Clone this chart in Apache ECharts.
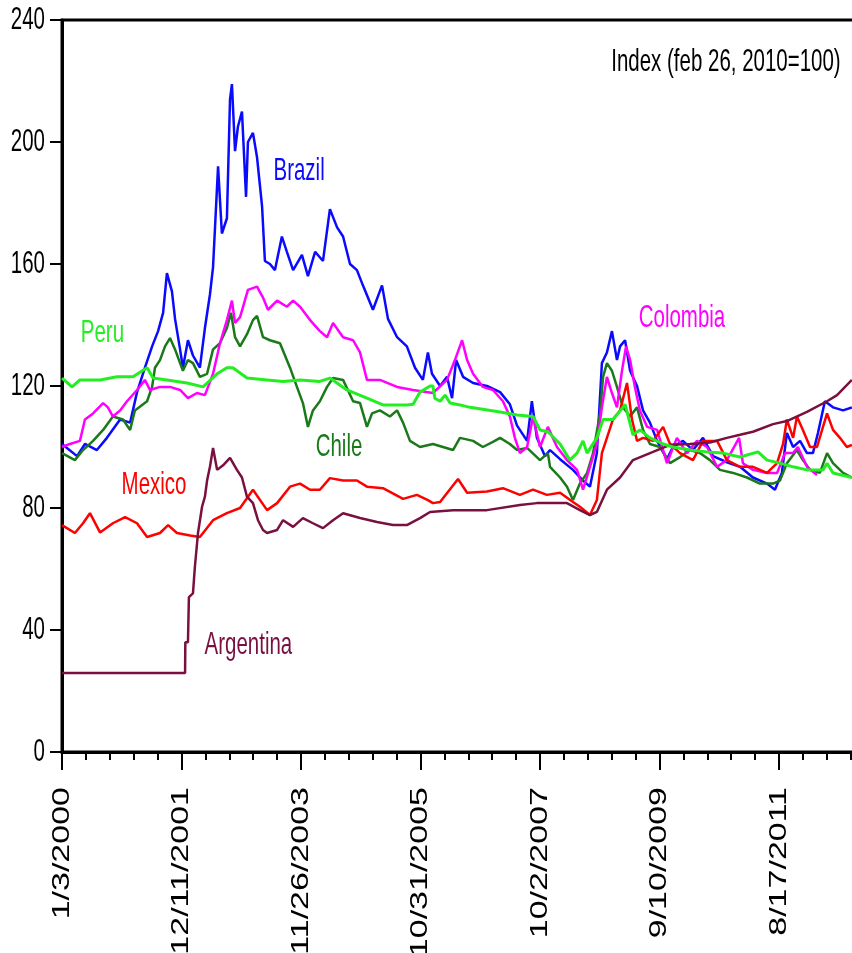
<!DOCTYPE html>
<html>
<head>
<meta charset="utf-8">
<script src="https://cdn.jsdelivr.net/npm/echarts@6/dist/echarts.min.js"></script>
<style>
html,body{margin:0;padding:0;background:#fff;}
#chart{width:852px;height:953px;}
</style>
</head>
<body>
<div id="chart"></div>
<script>
// x = trading-day observation index since 1/3/2000
const tickLabels = ['1/3/2000','12/11/2001','11/26/2003','10/31/2005','10/2/2007','9/10/2009','8/17/2011'];
const yTicks = [0, 40, 80, 120, 160, 200, 240];

const brazil = [[0,101],[63,97],[96,101],[146,99],[188,103],[243,109],[285,108],[314,118],[347,126],[377,133],[402,138],[423,144],[439,157],[460,151],[473,142],[494,132],[506,126],[527,135],[548,130],[577,126],[598,139],[619,150],[632,159],[653,192],[669,170],[690,175],[703,214],[711,219],[724,197],[736,205],[753,210],[770,182],[778,200],[799,203],[816,195],[837,179],[849,161],[870,160],[891,158],[920,169],[941,164],[967,158],[1004,163],[1029,156],[1059,164],[1092,161],[1121,178],[1151,172],[1176,169],[1205,160],[1234,158],[1259,153],[1301,145],[1339,153],[1364,142],[1402,136],[1443,133],[1477,126],[1510,122],[1531,131],[1548,124],[1582,120],[1611,123],[1632,116],[1649,128.5],[1678,123],[1720,121],[1778,120],[1833,118],[1874,114],[1904,107],[1946,102],[1966,115],[1987,103],[2021,97],[2042,99],[2084,96],[2138,92.5],[2180,89],[2209,87],[2238,98],[2259,127.5],[2280,131],[2301,138],[2322,128.5],[2335,133],[2356,135],[2377,125],[2406,120],[2431,112],[2460,108],[2490,102],[2531,96],[2556,100],[2598,102],[2640,99],[2682,103],[2724,97],[2782,95],[2837,93.5],[2891,90],[2950,88],[2983,86],[3012,91.5],[3033,104.6],[3059,100],[3088,102],[3117,98],[3142,98],[3163,104.6],[3192,115],[3226,113],[3268,112],[3305,113]];

const colombia = [[0,100],[33,101],[75,102],[96,109],[130,111],[172,114.4],[192,113],[213,110],[243,112],[272,115],[314,118.7],[347,122],[368,118.7],[410,119.7],[452,119.7],[494,118.7],[527,116],[565,117.7],[598,117],[632,124],[661,134],[690,141.6],[711,148],[724,140.7],[745,142.6],[778,151.5],[816,152.6],[841,149],[862,145],[900,148],[941,146],[967,148],[996,146],[1038,141.6],[1079,138],[1109,136],[1134,140.7],[1176,136],[1218,135],[1247,131],[1276,122],[1330,122],[1402,119.7],[1469,118.7],[1552,117.7],[1611,122],[1644,128.5],[1674,135],[1695,128.5],[1720,124],[1761,119.7],[1803,118.7],[1845,115],[1874,110],[1895,103],[1916,98],[1946,100],[1971,110],[2000,100],[2033,106.6],[2071,100],[2113,95.7],[2155,92.5],[2180,86],[2209,93.5],[2238,101],[2259,113],[2280,123],[2301,117.7],[2322,113],[2343,125],[2360,133],[2377,128.5],[2397,119.7],[2418,112],[2448,106.6],[2490,105.6],[2531,94.7],[2573,103],[2615,98],[2657,102],[2699,100],[2741,93.5],[2782,95.7],[2833,103],[2849,94.7],[2891,92.5],[2950,91.5],[2992,91.5],[3025,98],[3059,98],[3079,100],[3117,93.5],[3159,90.8]];

const chile = [[0,98],[54,95.7],[88,99],[130,102],[172,105.6],[213,110],[255,109],[285,105.6],[305,112],[356,115],[377,119.7],[389,126],[410,128.5],[431,133],[452,135.7],[473,132],[494,127.5],[506,125],[527,128.5],[548,127.5],[577,123],[607,124],[632,132],[661,134],[690,139],[707,144],[724,136],[745,133],[774,137],[799,141.6],[816,143],[841,136],[870,135],[912,134],[954,126],[983,119.7],[1008,114.4],[1029,106.6],[1050,112],[1079,115],[1109,119.7],[1134,122.6],[1176,122],[1218,115],[1247,114.4],[1276,106.6],[1297,111],[1330,112],[1372,110],[1402,112],[1427,108],[1456,102],[1498,100],[1552,101],[1594,100],[1636,99],[1665,103],[1720,102],[1761,100],[1803,101.7],[1833,103],[1874,101],[1904,99],[1946,99.7],[2000,95.7],[2033,98],[2042,93.5],[2084,90],[2113,87],[2138,82.6],[2167,88],[2197,91.5],[2222,98],[2251,111],[2264,123],[2280,127.5],[2301,125],[2322,119.7],[2347,113],[2377,110],[2406,113],[2431,105.6],[2460,101],[2502,100],[2544,94.7],[2586,96.7],[2628,99],[2669,98],[2711,95.7],[2753,92.5],[2808,91.5],[2866,90],[2920,88],[2975,88],[3004,89],[3033,94.7],[3075,99],[3100,95.7],[3130,92.5],[3171,91.5],[3201,98],[3226,94.7],[3268,91.5],[3305,90]];

const peru = [[0,122.6],[42,119.7],[75,122],[159,122],[230,123],[297,123],[356,126],[381,122.6],[439,122],[523,121],[590,119.7],[649,124],[690,126],[715,126],[774,122.6],[858,122],[925,121.5],[996,122],[1079,121.5],[1121,122.6],[1192,118.7],[1276,116],[1343,113.8],[1443,113.8],[1469,114],[1498,118],[1540,120],[1552,120],[1560,116],[1582,115],[1603,117],[1624,114.4],[1665,113.8],[1707,113],[1833,111.5],[1904,110.5],[1971,110],[2000,105.6],[2033,105],[2084,101],[2125,95.7],[2155,98],[2180,102],[2197,98],[2238,103],[2264,109],[2305,109],[2347,113],[2356,114],[2389,104],[2418,105.6],[2460,103],[2515,101],[2556,100],[2628,99],[2699,98.4],[2766,98],[2837,96.7],[2912,98.4],[2950,95.7],[3004,94.7],[3059,93.5],[3117,92.5],[3184,92.5],[3201,94.7],[3226,91.5],[3305,90]];

const mexico = [[0,74.4],[54,71.8],[88,75],[117,78.3],[159,72],[213,75],[264,77],[314,75],[356,70.5],[410,71.8],[444,74.4],[481,71.8],[536,71],[577,70.5],[632,76],[690,78.3],[745,80],[799,86],[858,79.3],[900,81.6],[954,87],[996,88],[1038,86],[1079,86],[1121,89.8],[1176,89],[1234,89],[1276,87],[1343,86.5],[1427,83],[1485,84.3],[1531,82.6],[1552,81.6],[1582,82],[1657,89.5],[1695,85],[1778,85.4],[1845,86.5],[1916,84.3],[1971,86],[2029,84.3],[2084,85],[2138,82],[2167,80.4],[2209,77.7],[2238,82.6],[2259,98],[2280,103],[2305,109],[2335,112],[2364,121],[2385,109],[2406,102],[2431,103],[2473,102],[2515,106.6],[2544,101],[2586,98],[2640,95.7],[2682,102],[2741,102],[2782,95.7],[2837,93.5],[2891,93.5],[2950,91.5],[2992,94.7],[3017,101],[3033,109],[3059,103],[3075,110],[3100,105.6],[3130,100],[3159,100],[3184,106.6],[3201,111],[3226,105.6],[3255,103],[3284,100],[3305,100.7]];

const argentina = [[0,25.9],[515,25.9],[516,36],[527,36],[531,50.8],[548,52],[556,60.7],[569,71.8],[586,80.4],[598,83.7],[607,89],[619,93.5],[632,99.7],[649,92.5],[674,94],[703,96.4],[732,92.5],[753,90],[774,83.7],[799,81.6],[820,76],[841,72.8],[858,71.8],[900,72.8],[925,76],[967,73.8],[1008,76.7],[1050,75],[1092,73.4],[1134,76],[1176,78.3],[1247,76.7],[1318,75.4],[1385,74.4],[1443,74.4],[1498,76.7],[1540,78.7],[1636,79.3],[1778,79.3],[1916,81],[1987,81.6],[2113,81.6],[2167,79.3],[2209,77.7],[2238,78.7],[2280,86],[2335,90],[2389,95.7],[2473,98.4],[2544,100.7],[2628,101],[2711,101.5],[2782,103],[2837,104],[2891,105],[2975,107.5],[3033,108.5],[3117,111.5],[3201,115],[3243,117],[3305,122]];

const seriesNames = ['Brazil','Chile','Colombia','Mexico','Argentina','Peru'];
const seriesData = [brazil, chile, colombia, mexico, argentina, peru];
const seriesColors = ['#0a0aff','#1a7a1a','#ff00ff','#ff0000','#7a1040','#22ee22'];

// annotation text anchored at data coordinates [obs, value]
const annoText = ['Brazil','Peru','Colombia','Chile','Mexico','Argentina','Index (feb 26, 2010=100)'];
const annoPos = [[992,190.3],[169,137.2],[2594,142.1],[1159,99.8],[385,87.5],[780,35.1],[2778,226.2]];
const annoColor = ['#0a0aff','#22ee22','#ff00ff','#1a7a1a','#ff0000','#7a1040','#000000'];

const FONT = "'Liberation Sans', Arial, sans-serif";
const TXT = 32, SQUEEZE = 0.64;

const chart = echarts.init(document.getElementById('chart'), null, {renderer:'canvas'});

const series = seriesData.map((d, i) => ({
  name: seriesNames[i],
  type: 'line',
  data: d,
  showSymbol: false,
  symbol: 'none',
  lineStyle: {width: i === 5 ? 3 : 2.5, color: seriesColors[i]},
  itemStyle: {color: seriesColors[i]},
  silent: true,
  z: 2 + i
}));

chart.setOption({
  animation: false,
  backgroundColor: '#fff',
  grid: {
    left: 62, top: 20, width: 836.5, height: 732,
    outerBoundsMode: 'none', containLabel: false,
    show: true, borderColor: '#000', borderWidth: 3, backgroundColor: 'transparent'
  },
  xAxis: {
    type: 'value', min: 0, max: 3500, interval: 500,
    axisLine: {show: true, onZero: false, lineStyle: {color: '#000', width: 3}},
    axisTick: {show: true, length: 18, lineStyle: {color: '#000', width: 2}},
    minorTick: {show: true, splitNumber: 5, length: 8, lineStyle: {color: '#000', width: 2}},
    splitLine: {show: false},
    minorSplitLine: {show: false},
    axisLabel: {show: false}
  },
  yAxis: {
    type: 'value', min: yTicks[0], max: yTicks[yTicks.length - 1], interval: 40,
    axisLine: {show: true, lineStyle: {color: '#000', width: 3}},
    axisTick: {show: true, length: 12, lineStyle: {color: '#000', width: 2}},
    splitLine: {show: false},
    axisLabel: {show: false}
  },
  series: series
});

// condensed tick labels and in-plot annotations, positioned through the chart's own scales
const graphics = [];
yTicks.forEach(v => {
  const p = chart.convertToPixel({gridIndex: 0}, [0, v]);
  graphics.push({
    type: 'text', x: p[0] - 17, y: p[1], scaleX: SQUEEZE, silent: true, z: 100,
    style: {text: String(v), fill: '#000', fontSize: TXT, fontFamily: FONT,
            align: 'right', textAlign: 'right', verticalAlign: 'middle', textVerticalAlign: 'middle'}
  });
});
tickLabels.forEach((t, i) => {
  const p = chart.convertToPixel({gridIndex: 0}, [i * 500, 0]);
  graphics.push({
    type: 'text', x: p[0], y: p[1] + 35, rotation: Math.PI / 2, scaleY: 0.7, silent: true, z: 100,
    style: {text: t, fill: '#000', fontSize: 34, fontFamily: FONT,
            align: 'right', textAlign: 'right', verticalAlign: 'middle', textVerticalAlign: 'middle'}
  });
});
annoText.forEach((t, i) => {
  const p = chart.convertToPixel({gridIndex: 0}, annoPos[i]);
  graphics.push({
    type: 'text', x: p[0], y: p[1], scaleX: SQUEEZE, silent: true, z: 100,
    style: {text: t, fill: annoColor[i], fontSize: TXT, fontFamily: FONT,
            align: 'center', textAlign: 'center', verticalAlign: 'middle', textVerticalAlign: 'middle'}
  });
});
chart.setOption({graphic: graphics});
</script>
</body>
</html>
